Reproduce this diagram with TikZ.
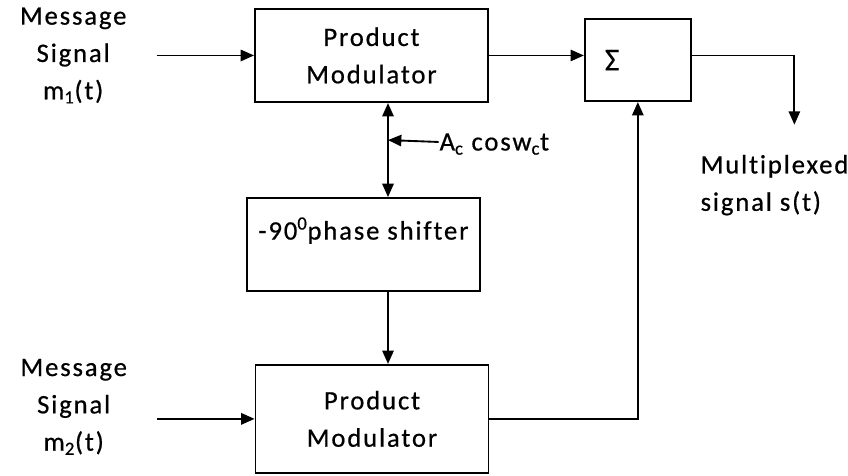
\documentclass[tikz,border=0pt]{standalone}
\usepackage{fontspec}
\setmainfont{Carlito}[Ligatures=NoCommon, LetterSpace=7, FakeBold=0.6]
\usetikzlibrary{arrows.meta,positioning}

\begin{document}
\begin{tikzpicture}[%
    >={Triangle[length=10pt,width=8.5pt]},
    line width=1.4pt,
    block/.style={draw, minimum width=174.75pt, minimum height=70pt, align=center},
    lbl/.style={align=center, inner sep=0pt},
    font=\fontsize{20}{28}\selectfont]
    \useasboundingbox (0,0) rectangle (636pt,-356.25pt);

    \node[block] (mod_1) at (278.6pt,-41.6pt) {Product\\Modulator};
    \node[block, minimum width=79.5pt, minimum height=61.5pt, text width=49.5pt,
          inner xsep=15pt, align=left, font=\fontsize{24}{28}\selectfont] (sum) [right=71.25pt of mod_1, yshift=-3.5pt] {Σ};
    \node[block, minimum height=69.75pt] (shift) [below=70.5pt of mod_1, xshift=-6pt] {-90\textsuperscript{0}phase shifter\\[-4pt]};
    \node[block, minimum height=81pt] (mod_2) [below=54pt of shift, xshift=6.4pt] {Product\\Modulator};

    \node[lbl] (msg_1) [left=95pt of mod_1] {Message\\Signal\\m\textsubscript{1}(t)};
    \node[lbl] (msg_2) [left=95pt of mod_2, yshift=9pt] {Message\\Signal\\m\textsubscript{2}(t)};

    \coordinate (tap) at ([xshift=12.4pt,yshift=-27.75pt]mod_1.south);
    \node[lbl, anchor=west] (carrier) [right=38pt of tap, yshift=-3pt] {A\textsubscript{c} cosw\textsubscript{c}t};

    \coordinate (mux) at ([xshift=117.4pt,yshift=-48.4pt]sum.center);
    \node[lbl, align=left, anchor=north west] (mux_text) at ([xshift=-71pt,yshift=-22pt]mux) {Multiplexed\\signal s(t)};

    \path[->]
              (msg_1) edge [shorten <=22pt] (mod_1)
              (msg_2.east |- mod_2) edge [shorten <=22pt] (mod_2)
              (mod_1) edge (mod_1 -| sum.west)
              (carrier) edge (tap)
              (shift.south -| tap) edge (mod_2.north -| tap);
    \draw[<->] (mod_1.south -| tap) -- (shift.north -| tap);
    \draw[->] (mod_1 -| sum.east) -| (mux);
    \draw[->] (mod_2) -| (sum);
\end{tikzpicture}
\end{document}
